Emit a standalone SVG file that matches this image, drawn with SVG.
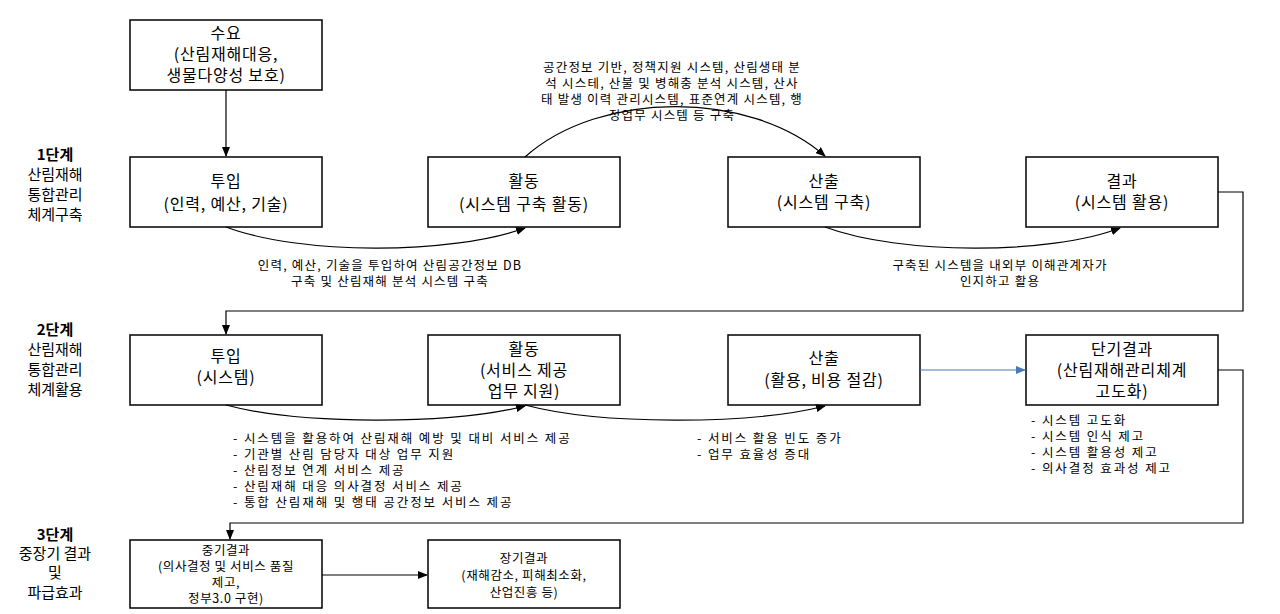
<svg xmlns="http://www.w3.org/2000/svg" width="1280" height="614" viewBox="0 0 1280 614">
<defs>
<marker id="ah" markerWidth="10" markerHeight="8" refX="9" refY="4" orient="auto" markerUnits="userSpaceOnUse"><path d="M0,0 L10,4 L0,8 z" fill="#000"/></marker>
<marker id="ahb" markerWidth="10" markerHeight="8" refX="9" refY="4" orient="auto" markerUnits="userSpaceOnUse"><path d="M0,0 L10,4 L0,8 z" fill="#4a78b8"/></marker>
<style>
text{font-family:"Noto Sans CJK KR","Noto Sans",sans-serif;fill:#000}
.b{fill:#fff;stroke:#000;stroke-width:1.5}
.t{font-size:16px;text-anchor:middle;letter-spacing:0.8px}
.s{font-size:12.5px;letter-spacing:1.9px}
.c{font-size:12.5px;text-anchor:middle;letter-spacing:1.2px}
.cb{font-size:12.5px;text-anchor:middle;letter-spacing:0.6px}
.st{font-size:15px;text-anchor:middle}
.l{fill:none;stroke:#000;stroke-width:1.2}
</style>
</defs>
<rect width="1280" height="614" fill="#fff"/>
<g id="stages">
<text class="st" x="55" y="160" font-weight="bold">1단계</text><text class="st" x="55" y="180">산림재해</text><text class="st" x="55" y="200">통합관리</text><text class="st" x="55" y="220">체계구축</text>
<text class="st" x="55" y="335" font-weight="bold">2단계</text><text class="st" x="55" y="355">산림재해</text><text class="st" x="55" y="375">통합관리</text><text class="st" x="55" y="395">체계활용</text>
<text class="st" x="55" y="540" font-weight="bold">3단계</text><text class="st" x="55" y="559">중장기 결과</text><text class="st" x="55" y="578">및</text><text class="st" x="55" y="598">파급효과</text>
</g>
<g id="n-demand"><rect class="b" x="130" y="20" width="192" height="70"/><text class="t" x="226" y="39">수요</text><text class="t" x="226" y="60">(산림재해대응,</text><text class="t" x="226" y="81">생물다양성 보호)</text></g>
<g id="n-in1"><rect class="b" x="130" y="157" width="192" height="70"/><text class="t" x="226" y="187">투입</text><text class="t" x="226" y="210">(인력, 예산, 기술)</text></g>
<g id="n-act1"><rect class="b" x="428" y="157" width="192" height="70"/><text class="t" x="524" y="187">활동</text><text class="t" x="524" y="210">(시스템 구축 활동)</text></g>
<g id="n-out1"><rect class="b" x="728" y="157" width="192" height="70"/><text class="t" x="824" y="187">산출</text><text class="t" x="824" y="208">(시스템 구축)</text></g>
<g id="n-res1"><rect class="b" x="1026" y="157" width="192" height="70"/><text class="t" x="1122" y="187">결과</text><text class="t" x="1122" y="208">(시스템 활용)</text></g>
<g id="n-in2"><rect class="b" x="130" y="335" width="192" height="70"/><text class="t" x="226" y="362">투입</text><text class="t" x="226" y="383">(시스템)</text></g>
<g id="n-act2"><rect class="b" x="428" y="335" width="192" height="70"/><text class="t" x="524" y="355">활동</text><text class="t" x="524" y="376">(서비스 제공</text><text class="t" x="524" y="397">업무 지원)</text></g>
<g id="n-out2"><rect class="b" x="728" y="335" width="192" height="70"/><text class="t" x="824" y="364">산출</text><text class="t" x="824" y="386">(활용, 비용 절감)</text></g>
<g id="n-short"><rect class="b" x="1026" y="335" width="192" height="70"/><text class="t" x="1122" y="355">단기결과</text><text class="t" x="1122" y="376">(산림재해관리체계</text><text class="t" x="1122" y="397">고도화)</text></g>
<g id="n-mid"><rect class="b" x="130" y="540" width="192" height="68"/><text class="cb" x="226" y="555">중기결과</text><text class="cb" x="226" y="571">(의사결정 및 서비스 품질</text><text class="cb" x="226" y="587">제고,</text><text class="cb" x="226" y="603">정부3.0 구현)</text></g>
<g id="n-long"><rect class="b" x="428" y="540" width="192" height="68"/><text class="cb" x="524" y="563">장기결과</text><text class="cb" x="524" y="580">(재해감소, 피해최소화,</text><text class="cb" x="524" y="597">산업진흥 등)</text></g>
<g id="connectors">
<path class="l" d="M226,90 V156" marker-end="url(#ah)"/>
<path class="l" d="M226,227 C300,255 450,255 525,228" marker-end="url(#ah)"/>
<path class="l" d="M525,157 C600,90 750,90 825,156" marker-end="url(#ah)"/>
<path class="l" d="M825,227 C900,255 1050,255 1120,228" marker-end="url(#ah)"/>
<path class="l" d="M1218,192 H1243 V311 H226 V334" marker-end="url(#ah)"/>
<path class="l" d="M226,405 C300,425 450,425 525,406" marker-end="url(#ah)"/>
<path class="l" d="M525,405 C600,425 750,425 825,406" marker-end="url(#ah)"/>
<path d="M920,370 H1025" stroke="#4a78b8" stroke-width="1.2" fill="none" marker-end="url(#ahb)"/>
<path class="l" d="M1218,370 H1243 V523 H230 V539" marker-end="url(#ah)"/>
<path class="l" d="M322,575 H427" marker-end="url(#ah)"/>
</g>
<g id="labels">
<text class="c" x="672" y="72">공간정보 기반, 정책지원 시스템, 산림생태 분</text>
<text class="c" x="672" y="88">석 시스테, 산불 및 병해충 분석 시스템, 산사</text>
<text class="c" x="672" y="104">태 발생 이력 관리시스템, 표준연계 시스템, 행</text>
<text class="c" x="672" y="120">정업무 시스템 등 구축</text>
<text class="c" x="390" y="270">인력, 예산, 기술을 투입하여 산림공간정보 DB</text>
<text class="c" x="390" y="286">구축 및 산림재해 분석 시스템 구축</text>
<text class="c" x="1000" y="270">구축된 시스템을 내외부 이해관계자가</text>
<text class="c" x="1000" y="286">인지하고 활용</text>
<text class="s" x="233" y="443">-   시스템을 활용하여 산림재해 예방 및 대비 서비스 제공</text>
<text class="s" x="233" y="459">-   기관별 산림 담당자 대상 업무 지원</text>
<text class="s" x="233" y="475">-   산림정보 연계 서비스 제공</text>
<text class="s" x="233" y="491">-   산림재해 대응 의사결정 서비스 제공</text>
<text class="s" x="233" y="507">-   통합 산림재해 및 행태 공간정보 서비스 제공</text>
<text class="s" x="697" y="443">-   서비스 활용 빈도 증가</text>
<text class="s" x="697" y="459">-   업무 효율성 증대</text>
<text class="s" x="1031" y="425">-   시스템 고도화</text>
<text class="s" x="1031" y="441">-   시스템 인식 제고</text>
<text class="s" x="1031" y="457">-   시스템 활용성 제고</text>
<text class="s" x="1031" y="473">-   의사결정 효과성 제고</text>
</g>
</svg>
